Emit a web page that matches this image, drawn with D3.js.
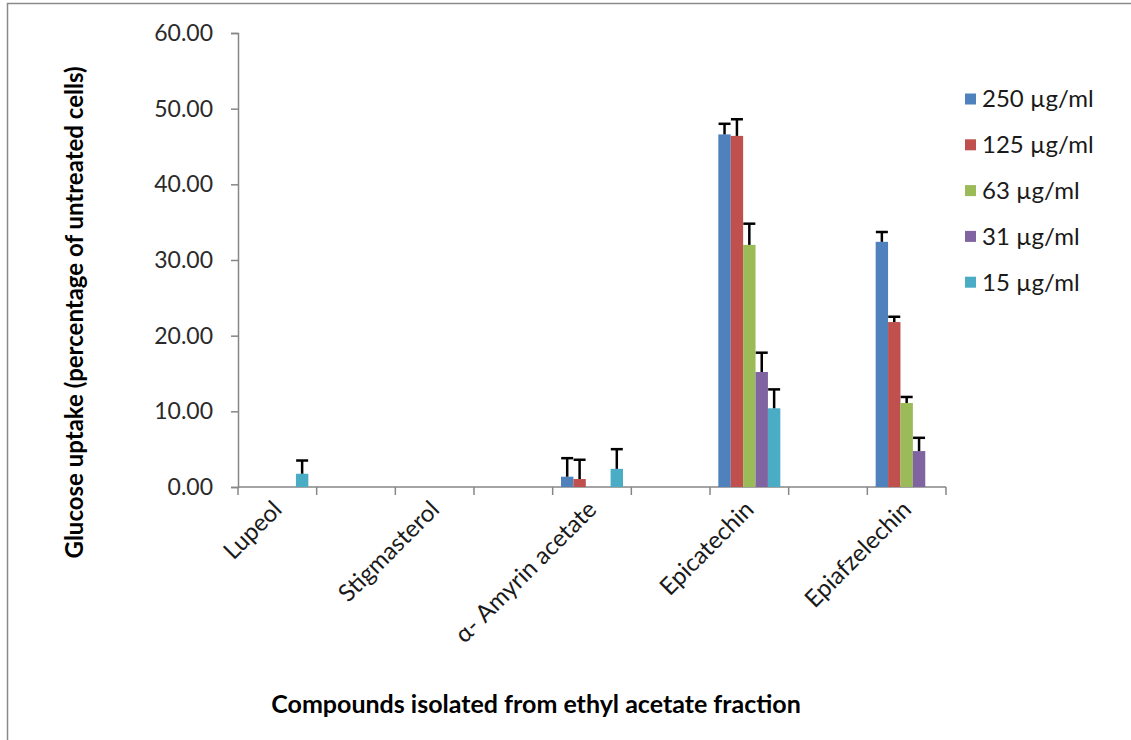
<!DOCTYPE html>
<html>
<head>
<meta charset="utf-8">
<script src="https://cdn.jsdelivr.net/npm/d3@7"></script>
<style>
  html, body { margin: 0; padding: 0; background: #fff; }
  svg { display: block; font-family: Lato, "Open Sans", sans-serif; }
</style>
</head>
<body>
<svg id="chart" width="1131" height="740"></svg>
<script>
// Category slots along the x axis (blank slots separate the compounds)
const categories = ["Lupeol", "", "Stigmasterol", "", "α- Amyrin acetate", "", "Epicatechin", "", "Epiafzelechin"];

// Concentration series
const seriesNames = ["250 µg/ml", "125 µg/ml", "63 µg/ml", "31 µg/ml", "15 µg/ml"];
const seriesColors = ["#4F81BD", "#C0504D", "#9BBB59", "#8064A2", "#4BACC6"];

// Mean glucose uptake (% of untreated cells) per slot
const values250 = [0, null, 0, null, 1.36, null, 46.6, null, 32.4];
const values125 = [0, null, 0, null, 1.05, null, 46.4, null, 21.8];
const values63  = [0, null, 0, null, 0,    null, 32.0, null, 11.1];
const values31  = [0, null, 0, null, 0,    null, 15.2, null, 4.75];
const values15  = [1.75, null, 0, null, 2.4, null, 10.4, null, 0];

// Upper error (SD) per slot
const err250 = [0, null, 0, null, 2.45, null, 1.4, null, 1.3];
const err125 = [0, null, 0, null, 2.55, null, 2.2, null, 0.7];
const err63  = [0, null, 0, null, 0,    null, 2.8, null, 0.8];
const err31  = [0, null, 0, null, 0,    null, 2.55, null, 1.75];
const err15  = [1.75, null, 0, null, 2.6, null, 2.5, null, 0];

// Y axis tick values
const yTicks = [0, 10, 20, 30, 40, 50, 60];

const allValues = [values250, values125, values63, values31, values15];
const allErrors = [err250, err125, err63, err31, err15];

const svg = d3.select("#chart");

// Frame around the chart area
svg.append("rect")
  .attr("x", 7.5).attr("y", 3.5)
  .attr("width", 1200).attr("height", 800)
  .attr("fill", "none").attr("stroke", "#8a8a8a").attr("stroke-width", 1.5);

const plot = { left: 238, right: 946, top: 33, bottom: 487 };

const x = d3.scaleBand()
  .domain(d3.range(categories.length))
  .range([plot.left, plot.right])
  .paddingInner(0).paddingOuter(0);

const groupPad = (x.bandwidth() - 62) / 2;
const xInner = d3.scaleBand()
  .domain(d3.range(seriesNames.length))
  .range([groupPad, x.bandwidth() - groupPad]);

const y = d3.scaleLinear().domain([0, 60]).range([plot.bottom, plot.top]);

// Y axis
const yAxis = svg.append("g")
  .attr("transform", `translate(${plot.left},0)`)
  .call(d3.axisLeft(y).tickValues(yTicks).tickFormat(d3.format(".2f"))
    .tickSize(7).tickPadding(18));
yAxis.select(".domain").attr("stroke", "#868686").attr("stroke-width", 1.5);
yAxis.selectAll(".tick line").attr("stroke", "#868686").attr("stroke-width", 1.5);
yAxis.selectAll(".tick text")
  .attr("fill", "#2a2a2a").style("font-size", "23px")
  .style("font-family", "Lato, 'Open Sans', sans-serif");

// X axis line and slot boundary ticks
const xBounds = d3.range(categories.length + 1).map(i =>
  i < categories.length ? x(i) : x(categories.length - 1) + x.bandwidth());
svg.append("line")
  .attr("x1", plot.left).attr("x2", plot.right)
  .attr("y1", y(0)).attr("y2", y(0))
  .attr("stroke", "#868686").attr("stroke-width", 1.5);
svg.selectAll(".xtick").data(xBounds).enter().append("line")
  .attr("class", "xtick")
  .attr("x1", d => d).attr("x2", d => d)
  .attr("y1", y(0)).attr("y2", y(0) + 8)
  .attr("stroke", "#868686").attr("stroke-width", 1.5);

// Rotated category labels
svg.selectAll(".xlabel").data(categories).enter().append("text")
  .attr("class", "xlabel")
  .attr("transform", (d, i) => `translate(${x(i) + x.bandwidth() / 2 + 6},${y(0) + 24}) rotate(-45)`)
  .attr("text-anchor", "end")
  .attr("fill", "#1a1a1a")
  .style("font-size", "24px")
  .text(d => d);

// Bars
const bars = [];
allValues.forEach((vals, s) => {
  vals.forEach((v, i) => {
    if (v === null) return;
    bars.push({ s, i, v, e: allErrors[s][i] });
  });
});

svg.append("g").selectAll("rect").data(bars).enter().append("rect")
  .attr("x", d => x(d.i) + xInner(d.s))
  .attr("width", xInner.bandwidth())
  .attr("y", d => y(d.v))
  .attr("height", d => y(0) - y(d.v))
  .attr("fill", d => seriesColors[d.s]);

// Upper error bars
const eb = svg.append("g").attr("stroke", "#000").attr("stroke-width", 2.5);
bars.filter(d => d.e > 0).forEach(d => {
  const cx = x(d.i) + xInner(d.s) + xInner.bandwidth() / 2;
  eb.append("line")
    .attr("x1", cx).attr("x2", cx)
    .attr("y1", y(d.v)).attr("y2", y(d.v + d.e));
  eb.append("line")
    .attr("x1", cx - 6).attr("x2", cx + 6)
    .attr("y1", y(d.v + d.e)).attr("y2", y(d.v + d.e));
});

// Legend
const legend = svg.append("g");
seriesNames.forEach((name, s) => {
  const cy = 99 + s * 45.8;
  legend.append("rect")
    .attr("x", 965).attr("y", cy - 5.5)
    .attr("width", 11).attr("height", 11)
    .attr("fill", seriesColors[s]);
  legend.append("text")
    .attr("x", 982).attr("y", cy)
    .attr("dy", "0.35em")
    .attr("fill", "#1a1a1a")
    .style("font-size", "24px")
    .text(name);
});

// Axis titles
svg.append("text")
  .attr("transform", `translate(75,${(65 + 560) / 2}) rotate(-90)`)
  .attr("text-anchor", "middle")
  .attr("dy", "0.35em")
  .attr("fill", "#000")
  .style("font-size", "24px").style("font-weight", "bold")
  .text("Glucose uptake (percentage of untreated cells)");

svg.append("text")
  .attr("x", 536).attr("y", 704)
  .attr("text-anchor", "middle")
  .attr("dy", "0.35em")
  .attr("fill", "#000")
  .style("font-size", "25px").style("font-weight", "bold")
  .text("Compounds isolated from ethyl acetate fraction");
</script>
</body>
</html>
